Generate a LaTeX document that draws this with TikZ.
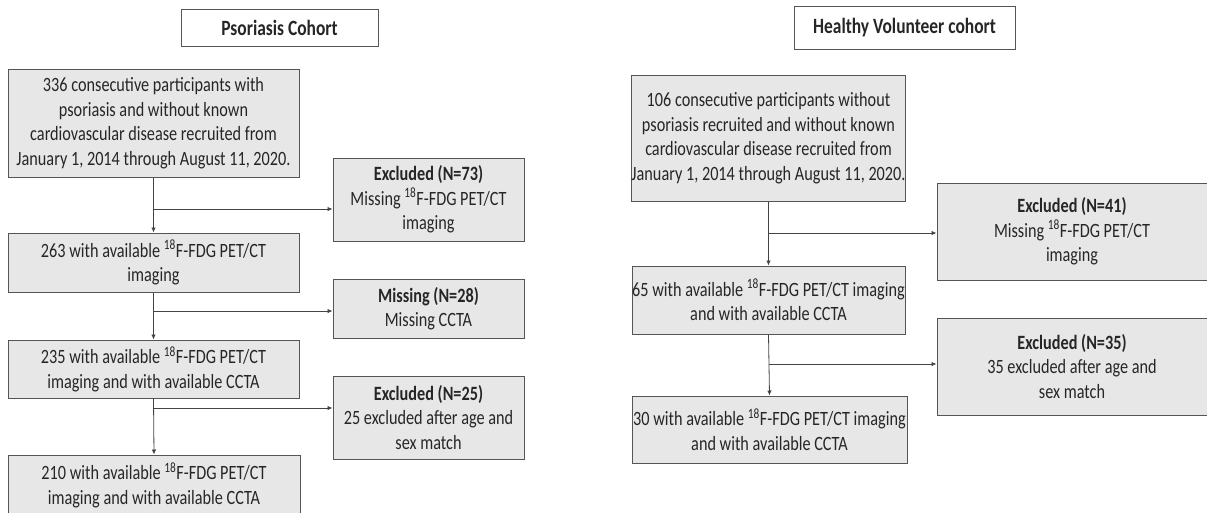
\documentclass[tikz,border=0pt]{standalone}
\usepackage{fontspec}
\setmainfont{Carlito}[FakeStretch=0.8]
\usetikzlibrary{arrows.meta}
\definecolor{boxfill}{HTML}{E7E7E7}
\definecolor{boxline}{HTML}{555555}
\definecolor{lineclr}{HTML}{444444}
\tikzset{
  stagebox/.style={draw=boxline, fill=boxfill, line width=1pt, align=center, inner sep=0pt,
    font=\fontsize{20.3pt}{24.5pt}\selectfont, text=black!85},
  titlebox/.style={draw=boxline, fill=white, line width=1pt, align=center, inner sep=0pt,
    font=\bfseries\fontsize{21.8pt}{24pt}\selectfont, text=black!85},
  flow/.style={draw=lineclr, line width=0.8pt, -{Latex[length=5pt,width=4.5pt]}},
  plain/.style={draw=lineclr, line width=0.8pt}
}
\newcommand{\ff}{\textsuperscript{18}F-FDG}
\begin{document}
\begin{tikzpicture}[x=1pt,y=-1pt]
\useasboundingbox (0,0) rectangle (1207,512);
\clip (0,0) rectangle (1207,512);
% ---------- left cohort ----------
\node[titlebox, minimum width=197pt, minimum height=37pt] (t1) at (279.5,27.5) {Psoriasis Cohort};
\node[stagebox, minimum width=291pt, minimum height=108pt] (a1) at (153.5,123)
  {336 consecutive participants with\\psoriasis and without known\\cardiovascular disease recruited from\\January 1, 2014 through August 11, 2020.};
\node[stagebox, minimum width=191pt, minimum height=83pt] (e1) at (428.5,199.5)
  {\textbf{Excluded (N=73)}\\Missing \ff{} PET/CT\\imaging};
\node[stagebox, minimum width=291pt, minimum height=59pt] (a2) at (153.5,262.5)
  {263 with available \ff{} PET/CT\\imaging};
\node[stagebox, minimum width=191pt, minimum height=59pt] (e2) at (428.5,308.5)
  {\textbf{Missing (N=28)}\\Missing CCTA};
\node[stagebox, minimum width=291pt, minimum height=58pt] (a3) at (153.5,369)
  {235 with available \ff{} PET/CT\\imaging and with available CCTA};
\node[stagebox, minimum width=191pt, minimum height=83pt] (e3) at (428.5,417.5)
  {\textbf{Excluded (N=25)}\\25 excluded after age and\\sex match};
\node[stagebox, minimum width=292pt, minimum height=60pt] (a4) at (154,485)
  {210 with available \ff{} PET/CT\\imaging and with available CCTA};
\draw[flow] (a1.south) -- (a2.north);
\draw[flow] (a2.south) -- (a3.north);
\draw[flow] (a3.south) -- (a4.north);
\coordinate (j1) at (153.5,209);
\coordinate (j2) at (153.5,311);
\coordinate (j3) at (153.5,408);
\draw[flow] (j1) -- (j1 -| e1.west);
\draw[flow] (j2) -- (j2 -| e2.west);
\draw[flow] (j3) -- (j3 -| e3.west);
% ---------- right cohort ----------
\node[titlebox, minimum width=221pt, minimum height=43pt] (t2) at (904.5,27.5) {Healthy Volunteer cohort};
\node[stagebox, minimum width=273pt, minimum height=126pt] (b1) at (768.5,138)
  {106 consecutive participants without\\psoriasis recruited and without known\\cardiovascular disease recruited from\\January 1, 2014 through August 11, 2020.};
\node[stagebox, minimum width=270pt, minimum height=97pt] (f1) at (1072,231.5)
  {\textbf{Excluded (N=41)}\\Missing \ff{} PET/CT\\imaging};
\node[stagebox, minimum width=273pt, minimum height=68pt] (b2) at (768.5,300)
  {65 with available \ff{} PET/CT imaging\\and with available CCTA};
\node[stagebox, minimum width=270pt, minimum height=97pt] (f2) at (1072,366.5)
  {\textbf{Excluded (N=35)}\\35 excluded after age and\\sex match};
\node[stagebox, minimum width=275pt, minimum height=67pt] (b3) at (769.5,429.5)
  {30 with available \ff{} PET/CT imaging\\and with available CCTA};
\draw[flow] (b1.south) -- (b2.north);
\draw[flow] (b2.south) -- (b3.north);
\coordinate (k1) at (768.5,233);
\coordinate (k2) at (768.5,364);
\draw[flow] (k1) -- (k1 -| f1.west);
\draw[flow] (k2) -- (k2 -| f2.west);
\end{tikzpicture}
\end{document}
